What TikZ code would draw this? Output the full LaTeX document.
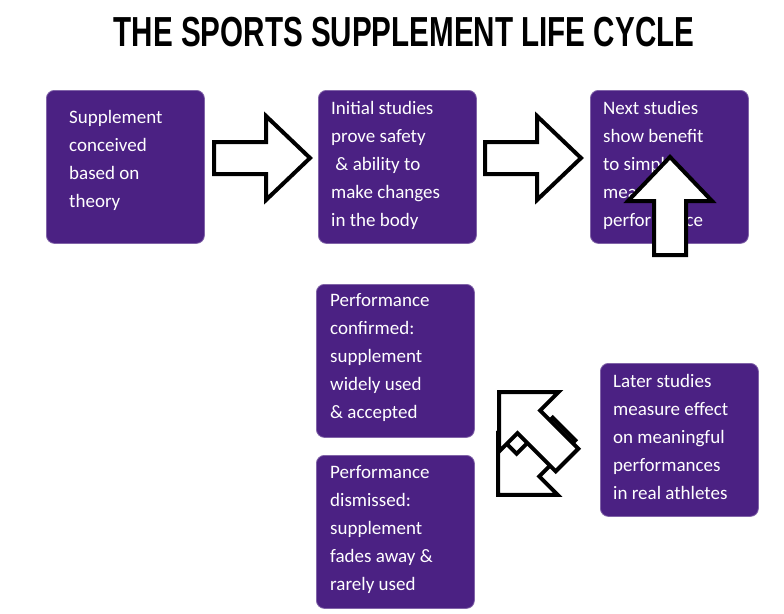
\documentclass[tikz,border=0pt]{standalone}
\usepackage{fontspec}
\setmainfont{Carlito}
\newfontfamily\titlefont{Liberation Sans}
\definecolor{boxpurple}{HTML}{4B2183}
\begin{document}
\begin{tikzpicture}[x=1pt,y=-1pt,
  box/.style={fill=boxpurple,draw=boxpurple!70!white,line width=0.8pt,rounded corners=8pt,minimum width=158pt,minimum height=153pt,anchor=north west,inner sep=0pt},
  txt/.style={text=white,font=\fontsize{19}{28}\selectfont,align=left,anchor=north west,inner sep=0pt},
  blk/.style={draw=black,line width=4pt,fill=white,line join=miter}]
\useasboundingbox (0,0) rectangle (784,613);
\newcommand{\blockarrow}[5]{% tail x,y ; angle ; length ; headlen
  \begin{scope}[shift={(#1,#2)},rotate=#3]
  \draw[blk] (0,-16) -- (#4-#5,-16) -- (#4-#5,-42) -- (#4,0) -- (#4-#5,42) -- (#4-#5,16) -- (0,16) -- cycle;
  \end{scope}}
\node[font=\titlefont\bfseries\fontsize{40}{40}\selectfont,inner sep=0pt] (title) at (404,32) {\scalebox{0.74}[1.05]{THE SPORTS SUPPLEMENT LIFE CYCLE}};
\node[box] (b1) at (46,90) {};
\node[txt] (t1) at (69,110) {Supplement\\conceived\\based on\\theory};
\node[box] (b2) at (318,90) {};
\node[txt] (t2) at (331,101) {Initial studies\\prove safety\\\ \& ability to\\make changes\\in the body};
\node[box] (b3) at (590,90) {};
\node[txt] (t3) at (603,101) {Next studies\\show benefit\\to simple\\measures of\\performance};
\node[box] (b4) at (600,363) {};
\node[txt] (t4) at (613,374) {Later studies\\measure effect\\on meaningful\\performances\\in real athletes};
\node[box] (b5) at (316,284) {};
\node[txt] (t5) at (330,293) {Performance\\confirmed:\\supplement\\widely used\\\& accepted};
\node[box] (b6) at (316,455) {};
\node[txt] (t6) at (330,465) {Performance\\dismissed:\\supplement\\fades away \&\\rarely used};
\blockarrow{214}{158}{0}{96}{44}
\blockarrow{485}{158}{0}{96}{44}
\blockarrow{670}{255}{90}{98}{44}
\blockarrow{564}{429}{-135}{93}{42}
\blockarrow{567}{460}{135}{96}{42}
\end{tikzpicture}
\end{document}
